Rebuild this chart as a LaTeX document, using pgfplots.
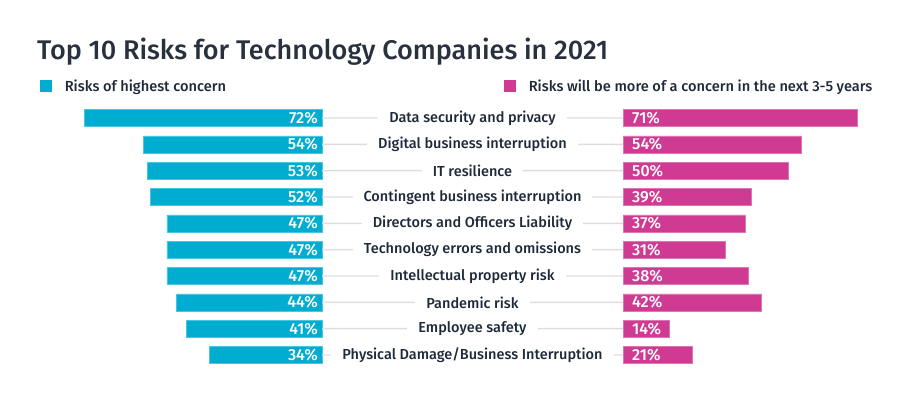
\documentclass[border=0pt]{standalone}
\usepackage{fontspec}
\usepackage{pgfplots}
\pgfplotsset{compat=1.18}
\usepackage{pgfplotstable}
\IfFontExistsTF{Fira Sans Medium}{\setmainfont{Fira Sans Medium}}{\setmainfont{Fira Sans}}
\definecolor{cyanC}{HTML}{00ADD0}
\definecolor{magC}{HTML}{CF3A93}
\definecolor{titlec}{HTML}{28323E}
\definecolor{textc}{HTML}{1E2A3A}
\definecolor{grayl}{HTML}{DDDDDD}
\pgfplotstableread[col sep=comma]{
idx,risk,high,future
0,Data security and privacy,72,71
1,Digital business interruption,54,54
2,IT resilience,53,50
3,Contingent business interruption,52,39
4,Directors and Officers Liability,47,37
5,Technology errors and omissions,47,31
6,Intellectual property risk,47,38
7,Pandemic risk,44,42
8,Employee safety,41,14
9,Physical Damage/Business Interruption,34,21
}\data
\begin{document}
\begin{tikzpicture}[x=1pt,y=1pt]
\path (0,0) rectangle (900,397);
\node[anchor=base west, inner sep=0pt, text=titlec, font=\fontsize{27}{32}\selectfont] at (37,337) {Top 10 Risks for Technology Companies in 2021};
% left axis
\begin{axis}[at={(322pt,28.83pt)}, anchor=south east, scale only axis,
  width=300pt, height=263.33pt, xmin=0, xmax=90.909, ymin=-0.5, ymax=9.5,
  x dir=reverse, y dir=reverse, hide axis, clip=false,
  legend style={at={(axis description cs:0.06,1.0715)}, anchor=west, draw=none, fill=none,
    inner sep=0pt, font=\fontsize{14.6}{16}\selectfont, text=textc, legend cell align=left,
    nodes={inner sep=0pt}, /tikz/every odd column/.style={column sep=13pt}}]
\addplot[xbar, bar width=17pt, fill=cyanC, draw=cyanC!70!white, line width=0.6pt,
  legend image code/.code={\fill[cyanC] (0pt,-5.5pt) rectangle (11pt,5.5pt);}]
  table[x=high, y=idx]{\data};
\addlegendentry{Risks of highest concern}
\addplot[draw=none, mark=none, forget plot, point meta=explicit,
  nodes near coords={\pgfmathprintnumber[fixed,precision=0,assume math mode=true]{\pgfplotspointmeta}\%},
  nodes near coords style={anchor=east, text=white, xshift=-4pt, inner sep=0pt,
    font=\fontsize{16}{18}\selectfont}]
  table[x expr=0, y=idx, meta=high]{\data};
\end{axis}
% middle axis
\begin{axis}[at={(322pt,28.83pt)}, anchor=south west, scale only axis,
  width=301pt, height=263.33pt, xmin=0, xmax=1, ymin=-0.5, ymax=9.5,
  y dir=reverse, hide axis, clip=false]
\addplot[xbar, bar width=1.4pt, fill=grayl, draw=none, forget plot]
  table[x expr=1, y=idx]{\data};
\addplot[draw=none, mark=none, forget plot, point meta=explicit symbolic,
  nodes near coords,
  nodes near coords style={anchor=center, fill=white, inner xsep=11pt, inner ysep=2pt,
    text=textc, font=\fontsize{14.5}{16}\selectfont}]
  table[x expr=0.5, y=idx, meta=risk]{\data};
\end{axis}
% right axis
\begin{axis}[at={(623pt,28.83pt)}, anchor=south west, scale only axis,
  width=250pt, height=263.33pt, xmin=0, xmax=75.758, ymin=-0.5, ymax=9.5,
  y dir=reverse, hide axis, clip=false,
  legend style={at={(axis description cs:-0.476,1.0715)}, anchor=west, draw=none, fill=none,
    inner sep=0pt, font=\fontsize{14.6}{16}\selectfont, text=textc, legend cell align=left,
    nodes={inner sep=0pt}, /tikz/every odd column/.style={column sep=13pt}}]
\addplot[xbar, bar width=17pt, fill=magC, draw=magC!70!white, line width=0.6pt,
  legend image code/.code={\fill[magC] (0pt,-5.5pt) rectangle (11pt,5.5pt);}]
  table[x=future, y=idx]{\data};
\addlegendentry{Risks will be more of a concern in the next 3-5 years}
\addplot[draw=none, mark=none, forget plot, point meta=explicit,
  nodes near coords={\pgfmathprintnumber[fixed,precision=0,assume math mode=true]{\pgfplotspointmeta}\%},
  nodes near coords style={anchor=west, text=white, xshift=9pt, inner sep=0pt,
    font=\fontsize{16}{18}\selectfont}]
  table[x expr=0, y=idx, meta=future]{\data};
\end{axis}
\end{tikzpicture}
\end{document}
